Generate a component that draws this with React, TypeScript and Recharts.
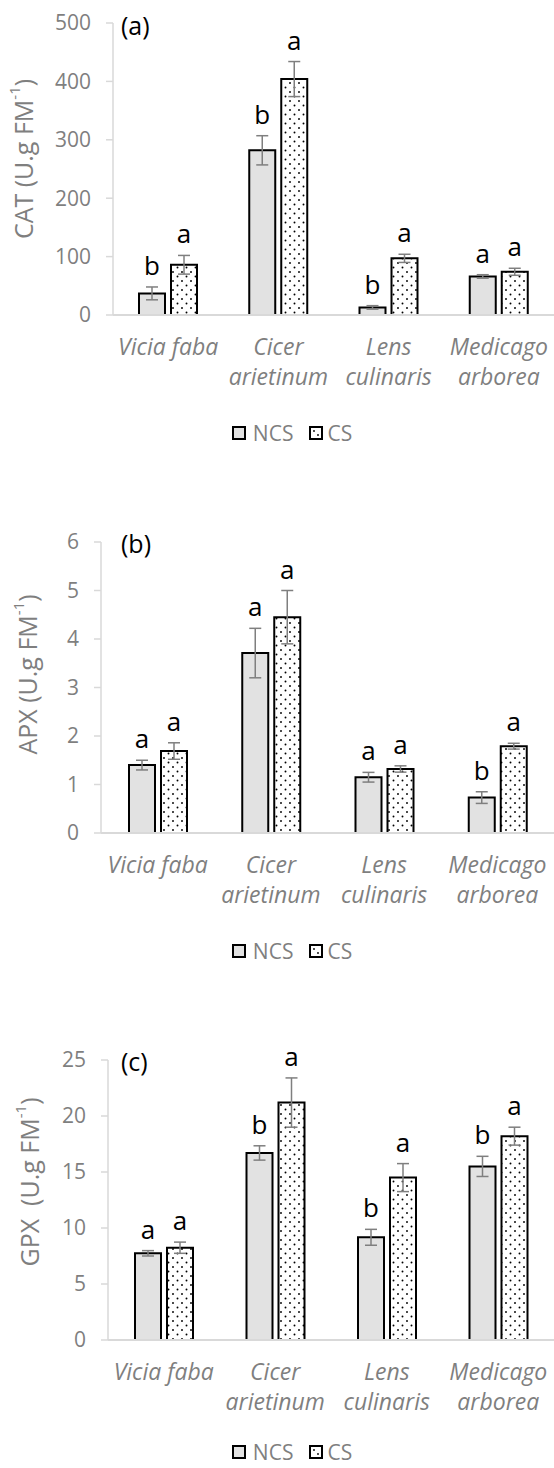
import React from 'react';
import { BarChart, Bar, XAxis, YAxis, ErrorBar, LabelList, Legend } from 'recharts';

const FONT = '"Open Sans", "Noto Sans", sans-serif';
const GRAY_TEXT = '#7f7f7f';
const AXIS = '#d9d9d9';

// ---- data ----
const species = ['Vicia faba', 'Cicer arietinum', 'Lens culinaris', 'Medicago arborea'];
const speciesLines = [['Vicia faba'], ['Cicer', 'arietinum'], ['Lens', 'culinaris'], ['Medicago', 'arborea']];
const seriesNames = ['NCS', 'CS'];

const catNCS = [37, 282, 13, 66];
const catNCSErr = [11, 25, 3, 3];
const catCS = [86, 404, 97, 74];
const catCSErr = [16, 30, 7, 6];
const catNCSLetters = ['b', 'b', 'b', 'a'];
const catCSLetters = ['a', 'a', 'a', 'a'];
const catTicks = [0, 100, 200, 300, 400, 500];

const apxNCS = [1.4, 3.71, 1.15, 0.73];
const apxNCSErr = [0.1, 0.51, 0.1, 0.12];
const apxCS = [1.69, 4.45, 1.32, 1.79];
const apxCSErr = [0.17, 0.55, 0.065, 0.06];
const apxNCSLetters = ['a', 'a', 'a', 'b'];
const apxCSLetters = ['a', 'a', 'a', 'a'];
const apxTicks = [0, 1, 2, 3, 4, 5, 6];

const gpxNCS = [7.74, 16.7, 9.17, 15.5];
const gpxNCSErr = [0.24, 0.64, 0.71, 0.9];
const gpxCS = [8.24, 21.2, 14.5, 18.2];
const gpxCSErr = [0.5, 2.2, 1.25, 0.8];
const gpxNCSLetters = ['a', 'b', 'b', 'b'];
const gpxCSLetters = ['a', 'a', 'a', 'a'];
const gpxTicks = [0, 5, 10, 15, 20, 25];

function build(ncs: number[], ncsErr: number[], cs: number[], csErr: number[], nL: string[], cL: string[]) {
  return species.map((name, i) => ({
    name,
    ncs: ncs[i],
    ncsErr: ncsErr[i],
    cs: cs[i],
    csErr: csErr[i],
    ncsL: nL[i],
    csL: cL[i],
  }));
}

const panels = [
  {
    key: 'a',
    label: '(a)',
    title: 'CAT (U.g FM',
    data: build(catNCS, catNCSErr, catCS, catCSErr, catNCSLetters, catCSLetters),
    ticks: catTicks,
    top: 0,
    height: 450,
    mTop: 23,
    mBottom: 7,
    xHeight: 108,
    yWidth: 113,
    titleX: 23,
    titleDy: -10,
    labelTop: 8,
  },
  {
    key: 'b',
    label: '(b)',
    title: 'APX (U.g FM',
    data: build(apxNCS, apxNCSErr, apxCS, apxCSErr, apxNCSLetters, apxCSLetters),
    ticks: apxTicks,
    top: 450,
    height: 518,
    mTop: 92,
    mBottom: 7,
    xHeight: 108,
    yWidth: 101,
    titleX: 27,
    titleDy: -13,
    labelTop: 526,
  },
  {
    key: 'c',
    label: '(c)',
    title: 'GPX\u00a0 (U.g FM',
    data: build(gpxNCS, gpxNCSErr, gpxCS, gpxCSErr, gpxNCSLetters, gpxCSLetters),
    ticks: gpxTicks,
    top: 968,
    height: 500,
    mTop: 92,
    mBottom: 6,
    xHeight: 102,
    yWidth: 108,
    titleX: 29,
    titleDy: -18,
    labelTop: 1044,
  },
];

const CatTick = (props: any) => {
  const { x, y, payload } = props;
  const idx = species.indexOf(payload.value);
  const lines = idx >= 0 ? speciesLines[idx] : [payload.value];
  return (
    <text x={x} y={y} textAnchor="middle" fill={GRAY_TEXT} fontSize={23} fontStyle="italic" fontFamily={FONT}>
      {lines.map((l: string, i: number) => (
        <tspan key={i} x={x} dy={i === 0 ? 40 : 30}>
          {l}
        </tspan>
      ))}
    </text>
  );
};

const makeLetter = (errKey: 'ncsErr' | 'csErr', valKey: 'ncs' | 'cs', data: any[]) => (props: any) => {
  const vb = props.viewBox || props;
  const x = props.x ?? vb.x;
  const y = props.y ?? vb.y;
  const width = props.width ?? vb.width;
  const height = props.height ?? vb.height;
  const idx = props.index;
  const row = data[idx];
  if (!row) return null;
  const errPx = (height * row[errKey]) / row[valKey];
  return (
    <text x={x + width / 2} y={y - errPx - 12} textAnchor="middle" fill="#000" fontSize={26} fontFamily={FONT}>
      {props.value}
    </text>
  );
};

const LegendContent = () => (
  <div
    style={{
      display: 'flex',
      justifyContent: 'center',
      alignItems: 'center',
      height: 20,
      paddingLeft: 30,
      fontFamily: FONT,
      fontSize: 21,
      color: GRAY_TEXT,
      lineHeight: '20px',
    }}
  >
    {seriesNames.map((s, i) => (
      <div key={s} style={{ display: 'flex', alignItems: 'center', marginLeft: i === 0 ? 0 : 16 }}>
        <svg width={14} height={14} style={{ marginRight: i === 0 ? 7 : 4 }}>
          <rect x={1} y={1} width={12} height={12} fill={i === 0 ? '#e2e2e2' : '#fff'} stroke="#000" strokeWidth={2} />
          {i === 1 && (
            <>
              <circle cx={5} cy={5} r={0.9} fill="#000" />
              <circle cx={9} cy={9} r={0.9} fill="#000" />
            </>
          )}
        </svg>
        <span>{s}</span>
      </div>
    ))}
  </div>
);

const YTitle = (title: string, titleX: number, titleDy: number) => (props: any) => {
  const vb = props.viewBox || {};
  const cy = vb.y + vb.height / 2 + titleDy;
  return (
    <text
      x={titleX}
      y={cy}
      transform={`rotate(-90, ${titleX}, ${cy})`}
      textAnchor="middle"
      dominantBaseline="central"
      fill={GRAY_TEXT}
      fontSize={25}
      fontFamily={FONT}
    >
      {title}
      <tspan dy={-9} fontSize={15}>
        -1
      </tspan>
      <tspan dy={9}>)</tspan>
    </text>
  );
};

export default function App() {
  return (
    <div style={{ position: 'relative', width: 554, height: 1468, background: '#fff' }}>
      <style>{'body{margin:0;background:#fff}'}</style>
      <svg width={0} height={0} style={{ position: 'absolute' }}>
        <defs>
          <pattern id="dots" width={9} height={9} patternUnits="userSpaceOnUse">
            <rect width={9} height={9} fill="#fff" />
            <circle cx={2} cy={2} r={0.95} fill="#000" />
            <circle cx={6.5} cy={6.5} r={0.95} fill="#000" />
          </pattern>
        </defs>
      </svg>
      {panels.map((p) => (
        <div key={p.key} style={{ position: 'absolute', left: 0, top: p.top, width: 554, height: p.height }}>
          <BarChart
            width={554}
            height={p.height}
            data={p.data}
            margin={{ top: p.mTop, right: 0, bottom: p.mBottom, left: 0 }}
            barGap={6}
            barSize={26}
          >
            <XAxis
              dataKey="name"
              interval={0}
              height={p.xHeight}
              tickLine={false}
              tickSize={0}
              tickMargin={0}
              axisLine={{ stroke: AXIS, strokeWidth: 2 }}
              tick={<CatTick />}
            />
            <YAxis
              type="number"
              width={p.yWidth}
              domain={[p.ticks[0], p.ticks[p.ticks.length - 1]]}
              ticks={p.ticks}
              interval={0}
              tickSize={7}
              tickMargin={15}
              axisLine={{ stroke: AXIS, strokeWidth: 1.5 }}
              tickLine={{ stroke: AXIS, strokeWidth: 1.5 }}
              tick={{ fill: GRAY_TEXT, fontSize: 21, fontFamily: FONT }}
              label={{ content: YTitle(p.title, p.titleX, p.titleDy) } as any}
            />
            <Legend verticalAlign="bottom" height={20} content={<LegendContent />} wrapperStyle={{ left: 0, width: 554 }} />
            <Bar dataKey="ncs" name="NCS" fill="#e2e2e2" stroke="#000" strokeWidth={2} isAnimationActive={false}>
              <ErrorBar dataKey="ncsErr" width={6} stroke="#7f7f7f" strokeWidth={1.5} direction="y" isAnimationActive={false} />
              <LabelList dataKey="ncsL" content={makeLetter('ncsErr', 'ncs', p.data)} />
            </Bar>
            <Bar dataKey="cs" name="CS" fill="url(#dots)" stroke="#000" strokeWidth={2} isAnimationActive={false}>
              <ErrorBar dataKey="csErr" width={6} stroke="#7f7f7f" strokeWidth={1.5} direction="y" isAnimationActive={false} />
              <LabelList dataKey="csL" content={makeLetter('csErr', 'cs', p.data)} />
            </Bar>
          </BarChart>
          <div
            style={{
              position: 'absolute',
              left: 121,
              top: p.labelTop - p.top,
              fontFamily: FONT,
              fontSize: 25,
              color: '#000',
              lineHeight: '34px',
            }}
          >
            {p.label}
          </div>
        </div>
      ))}
    </div>
  );
}
